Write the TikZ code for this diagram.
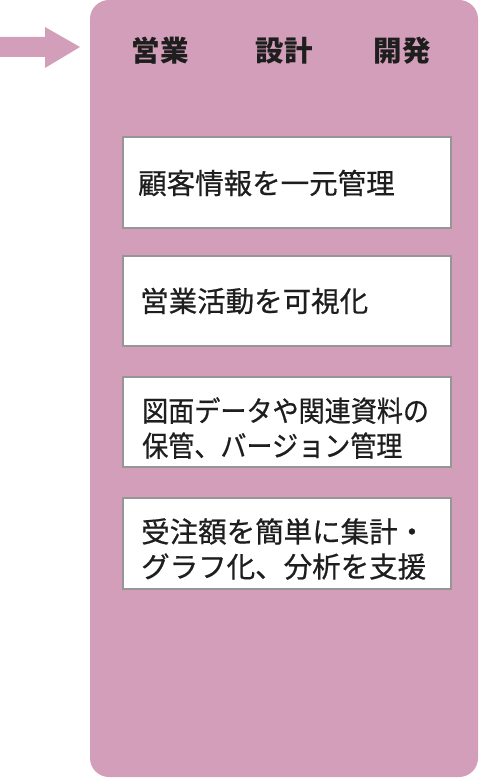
\documentclass[tikz,border=0pt]{standalone}
\usepackage{fontspec}
\setmainfont{Noto Sans CJK JP}
\newfontfamily\itemfont[FakeBold=0.6]{Noto Sans CJK JP}
\definecolor{panelpink}{RGB}{211,158,185}
\definecolor{boxline}{RGB}{150,150,150}
\definecolor{ink}{RGB}{30,30,30}
\begin{document}
\begin{tikzpicture}[x=1pt,y=-1pt,
  panel/.style={fill=panelpink,draw=none,rounded corners=19pt},
  itembox/.style={fill=white,draw=boxline,line width=1.2pt},
  itemtext/.style={anchor=west,align=left,text=ink,inner sep=0pt,font=\itemfont\fontsize{28.5}{35}\selectfont},
  headtext/.style={anchor=center,text=ink,inner sep=0pt,font=\fontsize{28.5}{35}\selectfont\bfseries}]
\useasboundingbox (0,0) rectangle (484,778);
% panel
\path[panel] (90,0) rectangle (478,777);
% arrow
\fill[panelpink] (0,37) -- (45,37) -- (45,27) -- (80,47) -- (45,68) -- (45,57) -- (0,57) -- cycle;
% headers
\node[headtext] (sales) at (160,51) {営業};
\node[headtext] (design) at (284,51) {設計};
\node[headtext] (dev) at (402,51) {開発};
% boxes
\draw[itembox] (123,137) rectangle (451,228);
\draw[itembox] (123,256) rectangle (451,346);
\draw[itembox] (123,377) rectangle (451,467);
\draw[itembox] (123,498) rectangle (451,589);
\node[itemtext] (t1) at (138,183) {顧客情報を一元管理};
\node[itemtext] (t2) at (140,301) {営業活動を可視化};
\node[itemtext,xscale=0.915,transform shape] (t3) at (142,428) {図面データや関連資料の\\保管、バージョン管理};
\node[itemtext] (t4) at (141,549) {受注額を簡単に集計・\\グラフ化、分析を支援};
\end{tikzpicture}
\end{document}
